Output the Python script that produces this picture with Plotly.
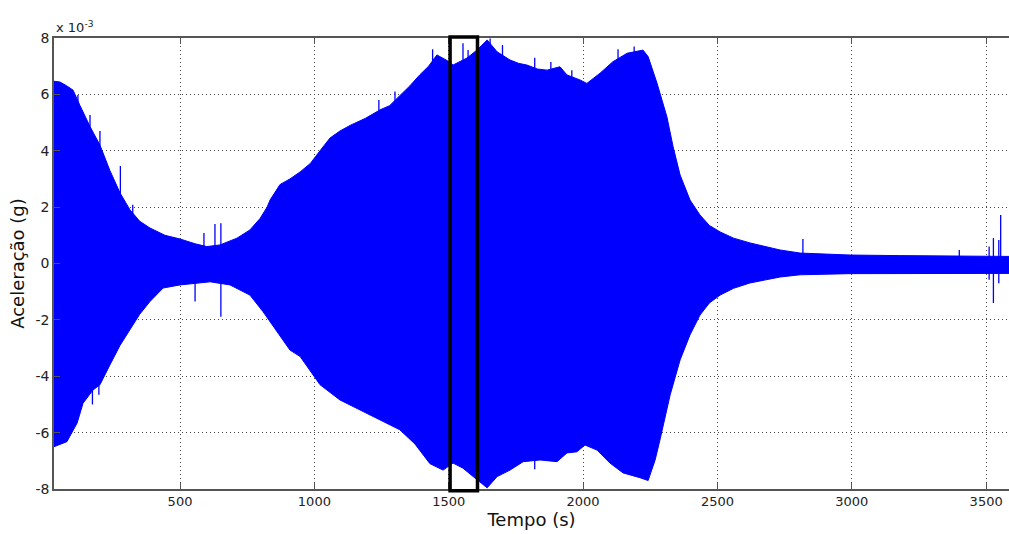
import plotly.graph_objects as go

# Acceleration envelope of the recorded signal (values in units of 1e-3 g)
t_upper = [0, 31, 53, 79, 102, 128, 165, 202, 239, 277, 314, 350, 388, 444, 500, 556, 600,
           649, 712, 760, 798, 824, 835, 872, 909, 947, 985, 1021, 1058, 1095, 1133, 1190,
           1244, 1280, 1318, 1355, 1393, 1425, 1456, 1494, 1516, 1568, 1605, 1643, 1680,
           1728, 1760, 1791, 1830, 1866, 1914, 1940, 1989, 2014, 2063, 2111, 2164, 2223,
           2242, 2275, 2312, 2335, 2361, 2398, 2435, 2470, 2510, 2560, 2621, 2733, 2808,
           2994, 3180, 3366, 3514, 3600]
a_upper = [6.5, 6.48, 6.44, 6.3, 6.15, 5.6, 4.86, 4.2, 3.3, 2.5, 1.9, 1.5, 1.26, 1.0, 0.87,
           0.7, 0.6, 0.66, 0.9, 1.19, 1.6, 2.0, 2.25, 2.8, 3.0, 3.25, 3.55, 4.0, 4.45, 4.7,
           4.9, 5.15, 5.45, 5.6, 5.95, 6.3, 6.7, 7.0, 7.4, 7.2, 7.04, 7.29, 7.57, 7.93,
           7.51, 7.22, 7.1, 7.04, 6.9, 6.86, 6.98, 6.69, 6.51, 6.39, 6.75, 7.16, 7.46,
           7.57, 7.34, 6.4, 5.2, 4.14, 3.14, 2.25, 1.72, 1.35, 1.12, 0.9, 0.73, 0.48, 0.37,
           0.3, 0.28, 0.26, 0.24, 0.25]

t_lower = [0, 31, 79, 117, 139, 176, 202, 239, 277, 314, 350, 388, 437, 500, 612, 686, 760,
           809, 835, 909, 947, 985, 1021, 1095, 1170, 1244, 1318, 1374, 1430, 1479, 1516,
           1553, 1591, 1643, 1680, 1728, 1777, 1840, 1903, 1940, 1977, 2007, 2052, 2100,
           2149, 2212, 2242, 2268, 2286, 2324, 2361, 2398, 2435, 2470, 2510, 2560, 2621,
           2733, 2808, 2994, 3180, 3366, 3514, 3600]
a_lower = [-6.5, -6.5, -6.32, -5.66, -4.96, -4.49, -4.3, -3.6, -2.9, -2.36, -1.8, -1.35,
           -0.87, -0.76, -0.65, -0.76, -1.12, -1.71, -2.07, -3.07, -3.3, -3.8, -4.3, -4.84,
           -5.2, -5.55, -5.9, -6.4, -7.1, -7.33, -7.08, -7.26, -7.56, -7.96, -7.56, -7.33,
           -7.03, -6.97, -7.03, -6.72, -6.68, -6.44, -6.62, -7.08, -7.43, -7.6, -7.7,
           -6.97, -6.26, -4.66, -3.42, -2.53, -1.83, -1.4, -1.12, -0.88, -0.69, -0.48,
           -0.4, -0.36, -0.35, -0.34, -0.35, -0.35]

# Isolated peaks standing out of the envelope: time, max, min
spike_t = [120, 165, 174, 195, 198, 202, 236, 278, 324, 556, 589, 630, 652,
           1240, 1300, 1440, 1553, 1572, 1654, 1700, 1820, 1880, 1958, 2130, 2190,
           2818, 3400, 3511, 3527, 3547, 3554]
spike_hi = [5.98, 5.27, 0.0, 4.14, 0.0, 4.7, 3.26, 3.46, 2.08, 0.0, 1.08, 1.4, 1.43,
            5.8, 6.1, 7.6, 7.81, 7.57, 7.98, 7.75, 7.3, 7.15, 6.86, 7.6, 7.7,
            0.87, 0.48, 0.6, 0.9, 0.83, 1.72]
spike_lo = [0.0, 0.0, -5.0, 0.0, -4.66, 0.0, 0.0, 0.0, 0.0, -1.35, 0.0, 0.0, -1.89,
            0.0, 0.0, 0.0, 0.0, 0.0, 0.0, 0.0, -7.3, 0.0, 0.0, 0.0, 0.0,
            0.0, 0.0, -0.58, -1.4, -0.7, -0.3]

# Highlighted analysis window
window_t = [1505, 1607]

x_ticks = [500, 1000, 1500, 2000, 2500, 3000, 3500]
y_ticks = [-8, -6, -4, -2, 0, 2, 4, 6, 8]
y_labels = ["-8", "-6", "-4", "-2", "0", "2", "4", "6", "8"]

BLUE = "#0000FF"
font_family = "DejaVu Sans"

fig = go.Figure()

fig.add_trace(go.Scatter(
    x=t_upper + t_lower[::-1],
    y=a_upper + a_lower[::-1],
    mode="lines", fill="toself", fillcolor=BLUE,
    line=dict(color=BLUE, width=1), hoverinfo="skip", showlegend=False,
))

sx, sy = [], []
for t, hi, lo in zip(spike_t, spike_hi, spike_lo):
    sx += [t, t, None]
    sy += [lo, hi, None]
fig.add_trace(go.Scatter(
    x=sx, y=sy, mode="lines", line=dict(color=BLUE, width=1.3),
    hoverinfo="skip", showlegend=False,
))

fig.add_shape(type="rect", xref="x", yref="paper",
              x0=window_t[0], x1=window_t[1], y0=-0.004, y1=1.002,
              line=dict(color="black", width=3.5), fillcolor="rgba(0,0,0,0)",
              layer="above")

fig.add_annotation(xref="paper", yref="paper", x=0.0, y=1.0, xanchor="left",
                   yanchor="bottom", yshift=1,
                   text="x 10<sup>-3</sup>", showarrow=False,
                   font=dict(family=font_family, size=13, color="#222"))

fig.update_layout(
    width=1009, height=534,
    margin=dict(l=54, r=0, t=38, b=45),
    paper_bgcolor="white", plot_bgcolor="white",
    font=dict(family=font_family, color="#222"),
    xaxis=dict(
        range=[31, 3585], tickvals=x_ticks, ticktext=[str(v) for v in x_ticks],
        ticks="inside", ticklen=6, tickcolor="#555", tickwidth=1,
        showline=True, linecolor="#555", linewidth=1.5, mirror="ticks",
        showgrid=True, gridcolor="#444", griddash="1px,3px", gridwidth=1,
        zeroline=False, tickfont=dict(size=13),
        title=dict(text="Tempo (s)", font=dict(size=18, color="#111"), standoff=4),
    ),
    yaxis=dict(
        range=[-8, 8], tickvals=y_ticks, ticktext=y_labels,
        ticks="inside", ticklen=6, tickcolor="#555", tickwidth=1,
        showline=True, linecolor="#555", linewidth=1.5,
        showgrid=True, gridcolor="#444", griddash="1px,3px", gridwidth=1,
        zeroline=False, tickfont=dict(size=14),
        title=dict(text="Aceleração (g)", font=dict(size=18, color="#111"), standoff=6),
    ),
)

fig.write_html("out.html")
